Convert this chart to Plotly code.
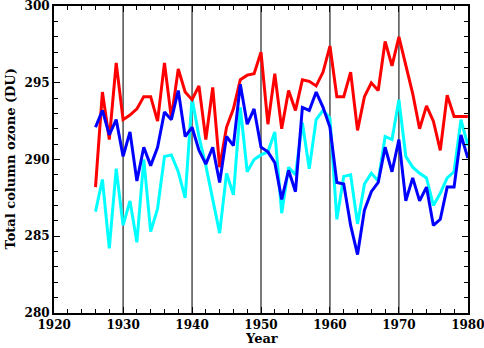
import plotly.graph_objects as go

years = list(range(1926, 1981))

red = [288.2, 294.4, 291.3, 296.3, 292.6, 292.9, 293.3, 294.1, 294.1, 292.5,
       296.3, 292.7, 295.9, 294.4, 293.9, 294.8, 291.3, 294.7, 289.5, 292.1,
       293.3, 295.2, 295.5, 295.6, 297.0, 292.3, 295.6, 292.0, 294.5, 293.2,
       295.2, 295.1, 294.8, 295.7, 297.4, 294.1, 294.1, 295.7, 291.9, 294.1,
       295.0, 294.5, 297.7, 296.1, 298.0, 296.2, 294.3, 292.0, 293.5, 292.5,
       290.6, 294.2, 292.8, 292.8, 292.8]

blue = [292.1, 293.2, 291.6, 292.6, 290.2, 291.8, 288.6, 290.8, 289.6, 290.8,
        293.1, 292.6, 294.5, 291.5, 292.1, 290.6, 289.7, 290.8, 288.5, 291.5,
        290.9, 294.9, 292.3, 293.3, 290.8, 290.5, 289.8, 287.4, 289.3, 287.9,
        293.4, 293.2, 294.4, 293.4, 292.1, 288.5, 288.4, 285.7, 283.8, 286.7,
        287.9, 288.5, 290.8, 289.2, 291.3, 287.3, 288.8, 287.3, 288.2, 285.7,
        286.1, 288.2, 288.2, 291.6, 290.1]

cyan = [286.6, 288.7, 284.2, 289.4, 285.7, 287.3, 284.6, 290.0, 285.3, 286.8,
        290.2, 290.3, 289.2, 287.5, 294.0, 291.5, 289.6, 287.5, 285.2, 289.1,
        287.7, 293.4, 289.2, 290.0, 290.3, 290.5, 291.8, 286.5, 289.5, 289.0,
        292.4, 289.4, 292.6, 293.2, 292.7, 286.1, 288.9, 289.0, 285.8, 288.4,
        289.1, 288.6, 291.5, 291.3, 293.9, 290.2, 289.5, 289.1, 288.8, 287.0,
        287.8, 288.8, 289.2, 292.6, 290.9]

x_ticks = [1920, 1930, 1940, 1950, 1960, 1970, 1980]
y_ticks = [280, 285, 290, 295, 300]
decade_lines = [1930, 1940, 1950, 1960, 1970]
x_title = "Year"
y_title = "Total column ozone (DU)"

FONT = "DejaVu Serif"
tfont = dict(family=FONT, size=12, color="black")

fig = go.Figure()
for yr in decade_lines:
    fig.add_shape(type="line", xref="x", yref="paper", x0=yr, x1=yr, y0=0, y1=1,
                  line=dict(color="#222222", width=1.2), layer="below")

for vals, col in [(cyan, "#00FFFF"), (red, "#FF0000"), (blue, "#0000FF")]:
    fig.add_trace(go.Scatter(x=years, y=vals, mode="lines",
                             line=dict(color=col, width=3), showlegend=False))

axis_common = dict(showline=True, linecolor="black", linewidth=2, mirror="allticks",
                   ticks="inside", tickcolor="black", ticklen=6, tickwidth=1,
                   showgrid=False, zeroline=False, automargin=False,
                   ticklabeloverflow="allow", tickfont=tfont)

fig.update_xaxes(range=[1919.98, 1980.02], tickvals=x_ticks,
                 ticktext=["<b>%d</b>" % v for v in x_ticks],
                 minor=dict(ticks="inside", dtick=2, ticklen=4, tickcolor="black", tickwidth=1),
                 **axis_common)
fig.update_yaxes(range=[279.99, 300.01], tickvals=y_ticks,
                 ticktext=["<b>%d</b>" % v for v in y_ticks],
                 minor=dict(ticks="inside", dtick=1, ticklen=4, tickcolor="black", tickwidth=1),
                 **axis_common)

fig.add_annotation(text="<b>%s</b>" % x_title, xref="paper", yref="paper",
                   x=0.5, y=0, yshift=-35, showarrow=False, yanchor="bottom",
                   font=dict(family=FONT, size=13, color="black"))
fig.add_annotation(text="<b>%s</b>" % y_title, xref="paper", yref="paper",
                   x=0, y=0.5, xshift=-44, textangle=-90, showarrow=False, xanchor="center",
                   font=dict(family=FONT, size=13, color="black"))

fig.update_layout(width=484, height=348, margin=dict(l=54, r=16, t=6, b=35),
                  plot_bgcolor="white", paper_bgcolor="white")

fig.write_html("out.html", config={"displayModeBar": False},
               post_script="document.body.style.margin='0px';")
